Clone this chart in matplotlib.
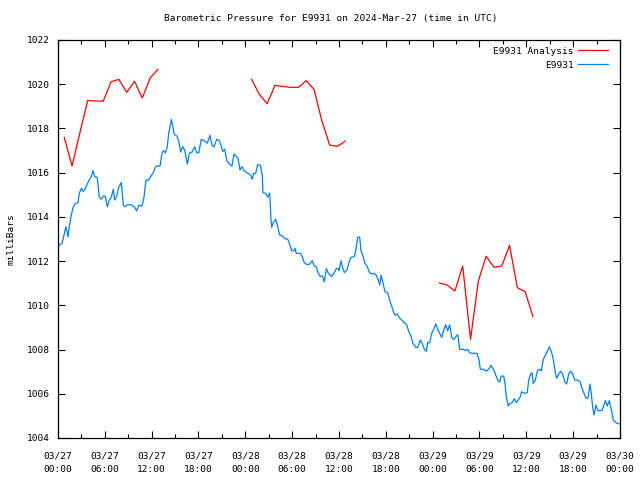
import numpy as np
import matplotlib
matplotlib.use("Agg")
import matplotlib.pyplot as plt
import matplotlib.dates as mdates
from datetime import datetime, timedelta

start = datetime(2024, 3, 27, 0, 0)

# E9931 observations: hours since 2024-03-27 00:00 UTC, pressure in mbar
obs_hours = [
    0.00, 0.26, 0.51, 0.77, 1.02, 1.28, 1.45, 1.70, 1.96, 2.22, 2.56, 2.73, 2.99, 3.24, 3.50,
    3.75, 4.01, 4.27, 4.48, 4.70, 5.03, 5.29, 5.55, 5.80, 6.06, 6.32, 6.57, 6.83, 7.08, 7.26,
    7.52, 7.78, 8.11, 8.37, 8.62, 8.88, 9.39, 9.83, 10.08, 10.34, 10.76, 11.02, 11.27, 11.53,
    11.88, 12.21, 12.47, 12.64, 13.07, 13.33, 13.49, 13.75, 14.00, 14.18, 14.44, 14.51, 14.69,
    14.86, 15.21, 15.46, 15.72, 15.98, 16.23, 16.57, 16.82, 17.17, 17.51, 17.77, 18.03, 18.36,
    18.71, 19.13, 19.47, 19.73, 19.99, 20.33, 20.66, 20.92, 21.10, 21.36, 21.61, 21.87, 22.29,
    22.55, 22.80, 23.06, 23.32, 23.57, 23.83, 24.18, 24.51, 24.73, 24.89, 25.07, 25.33, 25.58,
    25.92, 26.17, 26.26, 26.61, 26.87, 27.12, 27.29, 27.38, 27.63, 27.89, 28.15, 28.40, 28.74,
    29.08, 29.43, 29.68, 29.94, 30.20, 30.36, 30.53, 31.04, 31.30, 31.55, 31.90, 32.25, 32.58,
    32.84, 33.09, 33.35, 33.60, 33.86, 34.12, 34.37, 34.63, 35.07, 35.40, 35.65, 35.91, 36.00,
    36.26, 36.42, 36.68, 37.03, 37.28, 37.54, 37.96, 38.14, 38.31, 38.40, 38.65, 38.82, 39.07,
    39.33, 39.59, 39.93, 40.19, 40.45, 40.78, 41.04, 41.22, 41.38, 41.64, 41.89, 42.24, 42.50,
    42.75, 43.01, 43.18, 43.43, 43.69, 44.03, 44.37, 44.62, 44.88, 45.22, 45.48, 45.83, 46.08,
    46.42, 46.67, 46.93, 47.18, 47.36, 47.62, 47.88, 48.13, 48.39, 48.64, 48.90, 49.16, 49.41,
    49.67, 49.92, 50.18, 50.44, 50.69, 50.95, 51.21, 51.46, 51.98, 52.23, 52.49, 52.74, 53.00,
    53.68, 53.94, 54.10, 54.54, 54.87, 55.22, 55.47, 55.82, 56.07, 56.33, 56.59, 56.76, 57.10,
    57.27, 57.43, 57.69, 57.95, 58.20, 58.46, 58.72, 58.97, 59.23, 59.41, 59.74, 60.12, 60.30,
    60.56, 60.73, 60.89, 61.15, 61.41, 61.66, 61.92, 62.18, 62.43, 62.69, 62.94, 63.20, 63.46,
    63.71, 63.89, 64.15, 64.40, 64.66, 64.92, 65.17, 65.43, 65.68, 65.94, 66.20, 66.62, 66.88,
    67.13, 67.39, 67.64, 67.90, 68.16, 68.32, 68.50, 68.67, 68.93, 69.18, 69.69, 69.95, 70.12,
    70.37, 70.63, 70.89, 71.14, 71.58, 72.00,
]
obs_mbar = [
    1012.68, 1012.75, 1012.81, 1013.18, 1013.56, 1013.10, 1013.56, 1014.09, 1014.46, 1014.61,
    1014.64, 1015.07, 1015.29, 1015.14, 1015.29, 1015.49, 1015.67, 1015.82, 1016.09, 1015.82,
    1015.79, 1014.89, 1014.80, 1014.94, 1014.94, 1014.46, 1014.76, 1014.89, 1015.25, 1014.76,
    1014.94, 1015.34, 1015.55, 1014.54, 1014.46, 1014.55, 1014.55, 1014.43, 1014.27, 1014.52,
    1014.49, 1014.89, 1015.67, 1015.64, 1015.82, 1016.00, 1016.24, 1016.30, 1016.30, 1016.88,
    1016.99, 1016.90, 1017.17, 1017.78, 1018.23, 1018.41, 1018.16, 1017.75, 1017.66, 1017.45,
    1016.93, 1017.17, 1017.03, 1016.39, 1016.88, 1016.93, 1017.17, 1016.90, 1016.90, 1017.51,
    1017.45, 1017.33, 1017.69, 1017.24, 1017.17, 1017.51, 1017.45, 1017.21, 1016.95, 1017.06,
    1016.57, 1016.42, 1016.30, 1016.84, 1016.75, 1016.65, 1016.12, 1016.27, 1016.09, 1016.00,
    1015.94, 1015.85, 1015.70, 1015.97, 1015.97, 1016.36, 1016.33, 1015.89, 1015.09, 1015.07,
    1014.89, 1015.07, 1013.86, 1013.53, 1013.78, 1013.89, 1013.56, 1013.18, 1013.14, 1013.01,
    1012.99, 1012.77, 1012.47, 1012.47, 1012.58, 1012.35, 1012.35, 1012.20, 1011.93, 1011.84,
    1011.87, 1012.02, 1011.78, 1011.75, 1011.45, 1011.30, 1011.33, 1011.06, 1011.66, 1011.45,
    1011.30, 1011.48, 1011.66, 1011.66, 1011.57, 1012.02, 1011.75, 1011.48, 1011.60, 1011.96,
    1012.17, 1012.20, 1012.47, 1012.88, 1013.08, 1013.08, 1012.47, 1012.23, 1011.90, 1011.78,
    1011.48, 1011.42, 1011.45, 1011.36, 1011.15, 1010.92, 1011.37, 1011.00, 1010.62, 1010.57,
    1010.21, 1009.97, 1009.67, 1009.56, 1009.61, 1009.46, 1009.34, 1009.22, 1009.16, 1008.88,
    1008.61, 1008.28, 1008.10, 1008.10, 1008.43, 1008.28, 1008.01, 1007.92, 1008.31, 1008.31,
    1008.74, 1008.92, 1009.16, 1008.92, 1008.74, 1008.55, 1008.88, 1009.12, 1008.85, 1009.12,
    1008.55, 1008.46, 1008.58, 1008.67, 1008.01, 1008.01, 1007.95, 1008.01, 1007.86, 1007.83,
    1007.83, 1007.53, 1007.11, 1007.11, 1007.02, 1007.13, 1007.29, 1007.08, 1006.85, 1006.62,
    1006.53, 1006.80, 1006.80, 1006.47, 1005.87, 1005.45, 1005.57, 1005.60, 1005.78, 1005.60,
    1005.72, 1005.87, 1006.09, 1006.02, 1006.05, 1006.62, 1006.89, 1006.95, 1006.47, 1006.62,
    1007.02, 1007.11, 1007.04, 1007.56, 1007.74, 1007.92, 1008.13, 1007.92, 1007.56, 1006.95,
    1006.70, 1006.89, 1007.02, 1006.89, 1006.55, 1006.44, 1006.89, 1007.02, 1006.89, 1006.62,
    1006.62, 1006.55, 1006.25, 1006.02, 1005.80, 1005.80, 1006.44, 1006.02, 1005.39, 1005.04,
    1005.49, 1005.24, 1005.24, 1005.49, 1005.69, 1005.45, 1005.69, 1005.27, 1004.81, 1004.67,
    1004.63,
]

# E9931 Analysis: hourly, three runs separated by gaps (nan)
ana_hours = [
    0.8, 1.8, 2.8, 3.8, 4.8, 5.8, 6.8, 7.8, 8.8, 9.8, 10.8, 11.8, 12.8, 18.8,
    24.8, 25.8, 26.8, 27.8, 28.8, 29.8, 30.8, 31.8, 32.8, 33.8, 34.8, 35.8, 36.8, 42.8,
    48.85, 49.85, 50.85, 51.85, 52.85, 53.85, 54.85, 55.85, 56.85, 57.85, 58.85, 59.85, 60.85,
]
ana_mbar = [
    1017.6, 1016.3, 1017.8, 1019.26, 1019.24, 1019.24, 1020.11, 1020.22, 1019.63, 1020.13,
    1019.38, 1020.28, 1020.67, np.nan,
    1020.22, 1019.54, 1019.12, 1019.95, 1019.90, 1019.86, 1019.86, 1020.16, 1019.77, 1018.35,
    1017.25, 1017.19, 1017.43, np.nan,
    1011.01, 1010.92, 1010.65, 1011.78, 1008.46, 1011.1, 1012.22, 1011.72, 1011.78, 1012.71,
    1010.8, 1010.62, 1009.49,
]

y_ticks = [1004, 1006, 1008, 1010, 1012, 1014, 1016, 1018, 1020, 1022]

plt.rcParams['font.family'] = ['DejaVu Sans Mono']
plt.rcParams['font.size'] = 6.8

obs_t = [start + timedelta(hours=h) for h in obs_hours]
ana_t = [start + timedelta(hours=h) for h in ana_hours]

fig = plt.figure(figsize=(6.4, 4.8), dpi=100)
ax = fig.add_axes([58 / 640, 1 - 438 / 480, 562 / 640, 398 / 480])

ax.plot(ana_t, ana_mbar, color='#ff0000', lw=0.9, label='E9931 Analysis')
ax.plot(obs_t, obs_mbar, color='#0080ff', lw=0.9, label='E9931')

ax.set_xlim(start, start + timedelta(hours=72))
ax.set_ylim(1004, 1022)
ax.set_yticks(y_ticks)

ax.xaxis.set_major_locator(mdates.HourLocator(byhour=[0, 6, 12, 18]))
ax.xaxis.set_minor_locator(mdates.HourLocator(byhour=[3, 9, 15, 21]))
ax.xaxis.set_major_formatter(mdates.DateFormatter('%m/%d\n%H:%M'))
for lab in ax.get_xticklabels():
    lab.set_linespacing(1.6)

ax.tick_params(which='both', direction='in', top=True, right=True, width=0.8, color='black')
ax.tick_params(which='major', length=5)
ax.tick_params(which='minor', length=3)
ax.tick_params(axis='x', pad=10)
ax.tick_params(axis='y', pad=6)
for s in ax.spines.values():
    s.set_linewidth(0.9)

ax.set_ylabel('milliBars', labelpad=8)
fig.text(331 / 640, 1 - 19 / 480, 'Barometric Pressure for E9931 on 2024-Mar-27 (time in UTC)',
         ha='center', va='center')

leg = ax.legend(loc='upper right', bbox_to_anchor=(1 - 5 / 562, 1), frameon=False,
                markerfirst=False, handlelength=3.2, handletextpad=0.5, borderaxespad=0.3,
                borderpad=0.4, labelspacing=0.55)
for t in leg.get_texts():
    t.set_ha('right')

fig.savefig('out.png', dpi=100)
